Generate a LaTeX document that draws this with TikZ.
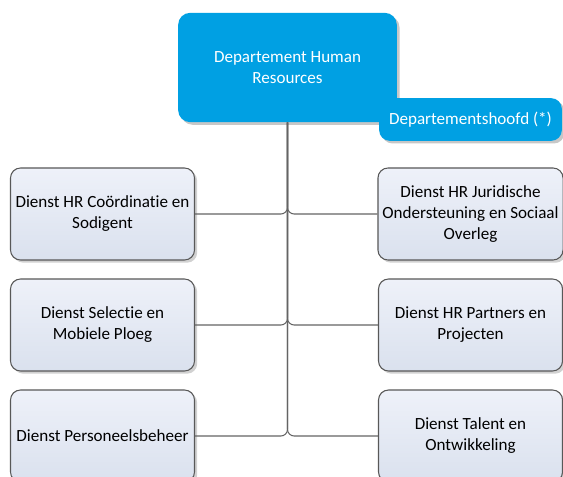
\documentclass[tikz,border=0pt]{standalone}
\usepackage{fontspec}
\setmainfont{Carlito}[Ligatures=NoCommon]
\usetikzlibrary{shadows}
\definecolor{hrblue}{RGB}{0,160,227}
\definecolor{unittop}{RGB}{238,241,249}
\definecolor{unitbot}{RGB}{218,225,238}
\definecolor{unitline}{RGB}{88,88,88}
\definecolor{linkgray}{RGB}{100,100,100}

\begin{document}
\begin{tikzpicture}[x=0.75pt, y=-0.75pt,
  dept node/.style={fill=hrblue, text=white, rounded corners=9pt, align=center,
    font=\fontsize{12.8}{15.75}\selectfont,
    drop shadow={shadow xshift=2pt, shadow yshift=-2pt, fill=black!22, opacity=1}},
  unit node/.style={draw=unitline, line width=0.8pt, top color=unittop, bottom color=unitbot,
    rounded corners=7.5pt, align=center, minimum width=138pt, minimum height=69pt,
    font=\fontsize{12.8}{15.75}\selectfont,
    drop shadow={shadow xshift=2pt, shadow yshift=-2pt, fill=black!18, opacity=1}},
  branch/.style={draw=linkgray, line width=0.8pt, rounded corners=5pt,
    to path={(\tikztostart.south) |- (\tikztotarget)}}]
\useasboundingbox (0,0) rectangle (563,477);

\node[dept node, minimum width=164pt, minimum height=82pt] (dhr) at (287.5,67.5) {Departement Human\\Resources};
\node[dept node, rounded corners=8pt, minimum width=137pt, minimum height=32pt] (head) at (470.5,119.5) {Departementshoofd (*)};

\node[unit node] (coord)  at (102.5,214) {Dienst HR Coördinatie en\\Sodigent};
\node[unit node] (select) at (102.5,325) {Dienst Selectie en\\Mobiele Ploeg};
\node[unit node] (pers)   at (102.5,436) {Dienst Personeelsbeheer};
\node[unit node] (legal)  at (470.5,214) {Dienst HR Juridische\\Ondersteuning en Sociaal\\Overleg};
\node[unit node] (partn)  at (470.5,325) {Dienst HR Partners en\\Projecten};
\node[unit node] (talent) at (470.5,436) {Dienst Talent en\\Ontwikkeling};

\path
(dhr) edge[branch] (coord)
      edge[branch] (select)
      edge[branch] (pers)
      edge[branch] (legal)
      edge[branch] (partn)
      edge[branch] (talent);
\end{tikzpicture}
\end{document}
